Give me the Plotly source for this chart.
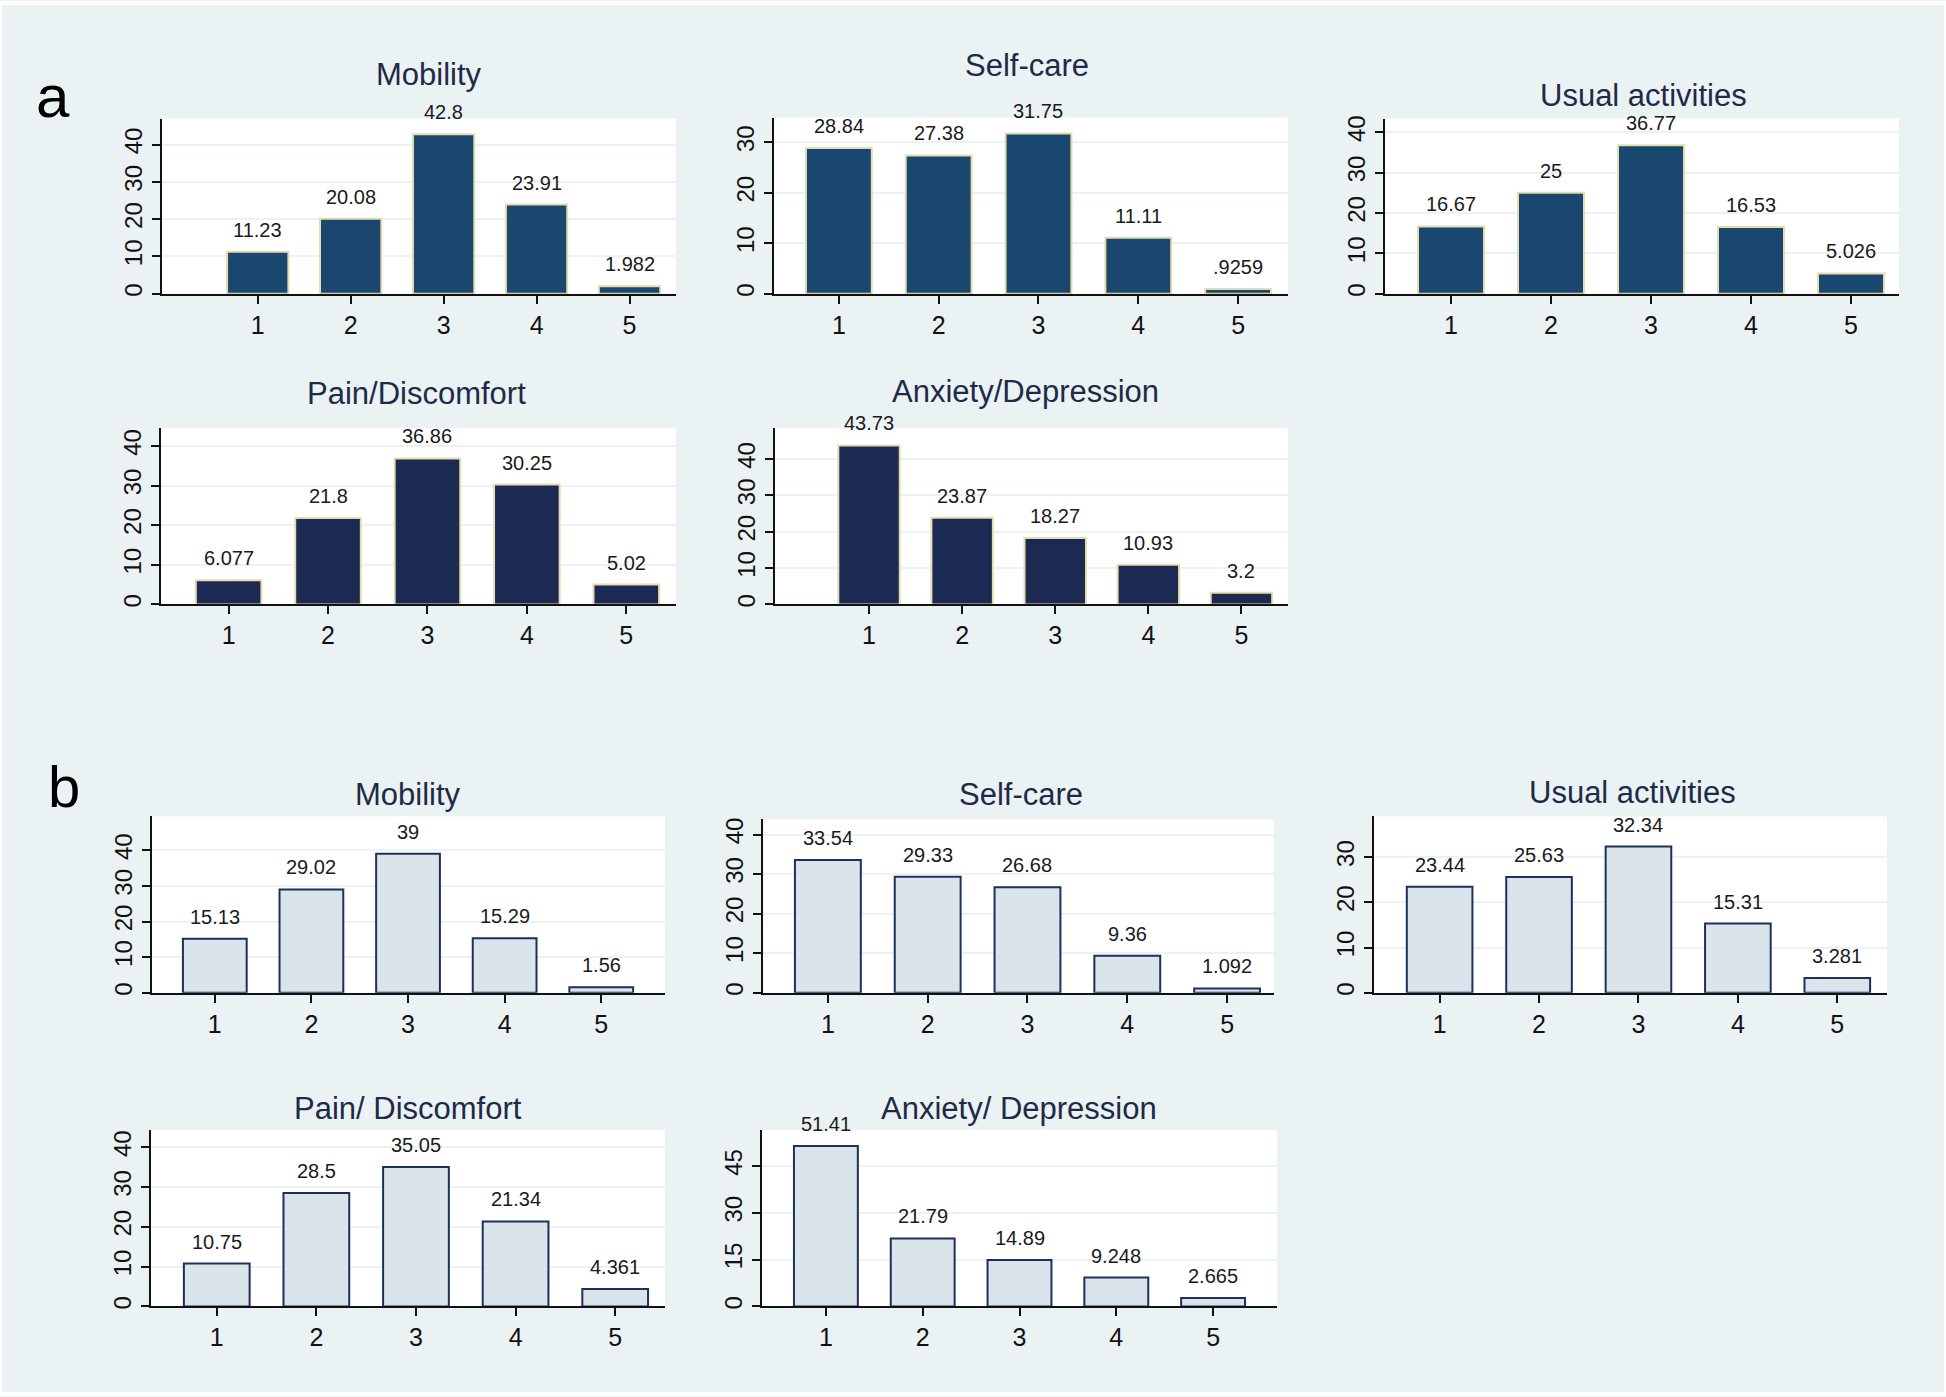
import plotly.graph_objects as go

categories = [1, 2, 3, 4, 5]

a_mobility = [11.23, 20.08, 42.8, 23.91, 1.982]
a_selfcare = [28.84, 27.38, 31.75, 11.11, 0.9259]
a_usual = [16.67, 25, 36.77, 16.53, 5.026]
a_pain = [6.077, 21.8, 36.86, 30.25, 5.02]
a_anxiety = [43.73, 23.87, 18.27, 10.93, 3.2]

b_mobility = [15.13, 29.02, 39, 15.29, 1.56]
b_selfcare = [33.54, 29.33, 26.68, 9.36, 1.092]
b_usual = [23.44, 25.63, 32.34, 15.31, 3.281]
b_pain = [10.75, 28.5, 35.05, 21.34, 4.361]
b_anxiety = [51.41, 21.79, 14.89, 9.248, 2.665]

titles_a = ["Mobility", "Self-care", "Usual activities", "Pain/Discomfort", "Anxiety/Depression"]
titles_b = ["Mobility", "Self-care", "Usual activities", "Pain/ Discomfort", "Anxiety/ Depression"]

W, H = 1946, 1397
FONT = "Liberation Sans, Arial, sans-serif"
BG = "#EAF2F3"
TXT = "#1E2A48"

# panel geometry: (left, right, top, bottom) px, x range, y range, y ticks, title pos, style
panels = [
    (a_mobility, titles_a[0], (162, 676, 116, 292), [-0.03, 5.5], [0, 47], [0, 10, 20, 30, 40], (429, 72), "a1"),
    (a_selfcare, titles_a[1], (774, 1288, 115, 292), [0.35, 5.5], [0, 34.9], [0, 10, 20, 30], (1027, 63), "a1"),
    (a_usual, titles_a[2], (1385, 1899, 116, 292), [0.34, 5.48], [0, 43.4], [0, 10, 20, 30, 40], (1643, 93), "a1"),
    (a_pain, titles_a[3], (161, 676, 427, 604), [0.32, 5.5], [0, 44.5], [0, 10, 20, 30, 40], (416, 392), "a2"),
    (a_anxiety, titles_a[4], (775, 1288, 427, 604), [-0.01, 5.5], [0, 48.5], [0, 10, 20, 30, 40], (1025, 390), "a2"),
    (b_mobility, titles_b[0], (152, 665, 817, 994), [0.35, 5.66], [0, 49.5], [0, 10, 20, 30, 40], (408, 795), "b"),
    (b_selfcare, titles_b[1], (763, 1274, 820, 994), [0.35, 5.47], [0, 43.8], [0, 10, 20, 30, 40], (1021, 795), "b"),
    (b_usual, titles_b[2], (1374, 1887, 817, 994), [0.34, 5.5], [0, 39], [0, 10, 20, 30], (1632, 793), "b"),
    (b_pain, titles_b[3], (151, 665, 1132, 1309), [0.34, 5.5], [0, 44.3], [0, 10, 20, 30, 40], (408, 1110), "b"),
    (b_anxiety, titles_b[4], (762, 1277, 1132, 1309), [0.34, 5.66], [0, 56.5], [0, 15, 30, 45], (1019, 1110), "b"),
]

styles = {
    "a1": dict(color="#1A476F", line=dict(color="#E6DDAE", width=2)),
    "a2": dict(color="#1C2952", line=dict(color="#E6DDAE", width=2)),
    "b": dict(color="#DAE5EB", line=dict(color="#1F2E5C", width=2)),
}


def fmt(v):
    s = f"{v:g}"
    if s.startswith("0."):
        s = s[1:]
    return s


fig = go.Figure()
annotations = []
layout = {}
for i, (vals, title, (l, r, t, b), xr, yr, yt, (tx, ty), st) in enumerate(panels, start=1):
    xa = "x" if i == 1 else f"x{i}"
    ya = "y" if i == 1 else f"y{i}"
    fig.add_trace(go.Bar(x=categories, y=vals, xaxis=xa, yaxis=ya, width=0.66,
                         marker=styles[st], showlegend=False, hoverinfo="skip"))
    layout[f"xaxis{i}"] = dict(
        domain=[l / W, r / W], anchor=ya, range=xr, tickvals=categories,
        showline=True, linecolor="#111111", linewidth=2, ticks="outside", ticklen=8,
        tickwidth=2, tickcolor="#111111", showgrid=False, zeroline=False,
        tickfont=dict(family=FONT, size=25, color="#111111"), fixedrange=True)
    layout[f"yaxis{i}"] = dict(
        domain=[1 - b / H, 1 - t / H], anchor=xa, range=yr, tickvals=yt,
        showline=True, linecolor="#111111", linewidth=2, ticks="outside", ticklen=8,
        tickwidth=2, tickcolor="#111111", showgrid=True, gridcolor=BG, gridwidth=2,
        zeroline=False, tickangle=-90,
        tickfont=dict(family=FONT, size=24, color="#111111"), fixedrange=True)
    for c, v in zip(categories, vals):
        annotations.append(dict(x=c, y=v, xref=xa, yref=ya, text=fmt(v), showarrow=False,
                                yanchor="bottom", yshift=9,
                                font=dict(family=FONT, size=20, color="#1A1A1A")))
    annotations.append(dict(x=tx / W, y=1 - ty / H, xref="paper", yref="paper", text=title,
                            showarrow=False, xanchor="center", yanchor="middle",
                            font=dict(family=FONT, size=31, color=TXT)))

annotations.append(dict(x=53 / W, y=1 - 94 / H, xref="paper", yref="paper", text="a",
                        showarrow=False, xanchor="center", yanchor="middle",
                        font=dict(family=FONT, size=60, color="#000000")))
annotations.append(dict(x=64 / W, y=1 - 787 / H, xref="paper", yref="paper", text="b",
                        showarrow=False, xanchor="center", yanchor="middle",
                        font=dict(family=FONT, size=58, color="#000000")))

fig.update_layout(**layout)
fig.update_layout(width=W, height=H, margin=dict(l=0, r=0, t=0, b=0),
                  paper_bgcolor=BG, plot_bgcolor="white", annotations=annotations,
                  bargap=0.34, showlegend=False,
                  shapes=[dict(type="rect", xref="paper", yref="paper", x0=0, x1=1, y0=0, y1=1,
                               line=dict(color="white", width=4), layer="above")])

fig.write_html("out.html", post_script="document.body.style.margin='0';",
               config={"displayModeBar": False})
